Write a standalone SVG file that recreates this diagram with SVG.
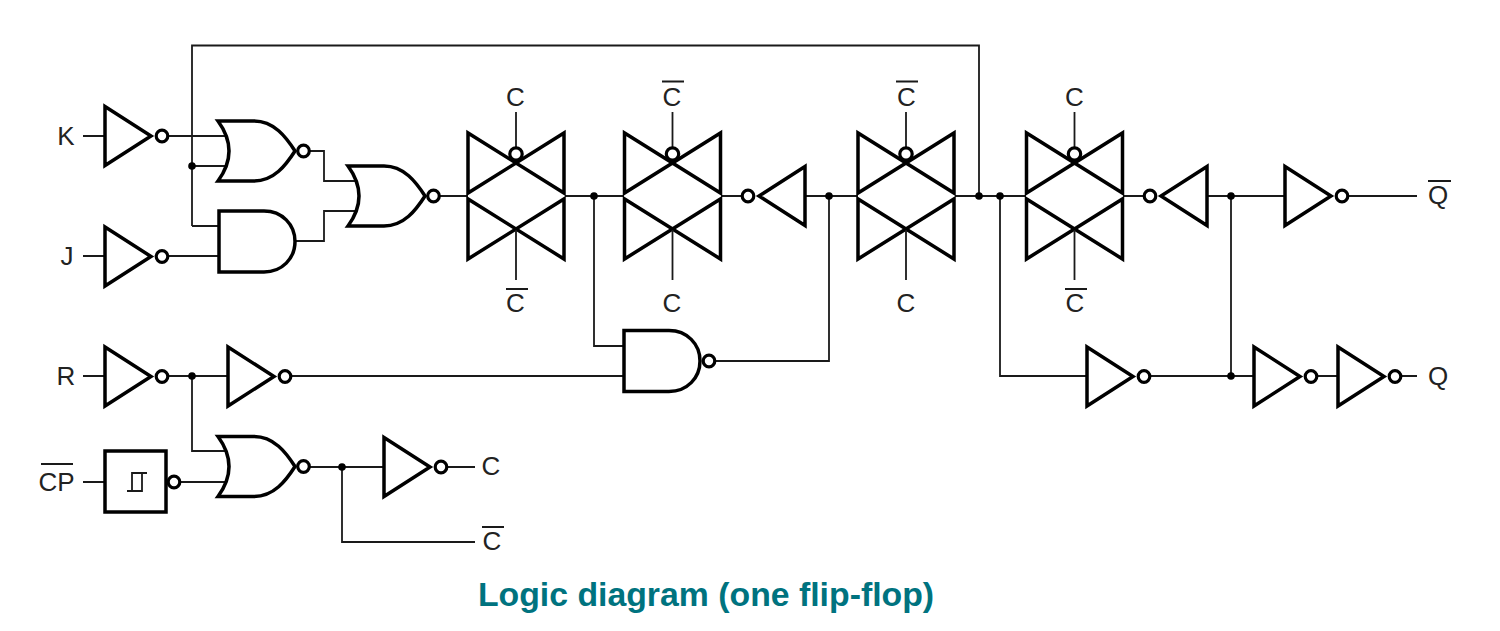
<svg xmlns="http://www.w3.org/2000/svg" xmlns:xlink="http://www.w3.org/1999/xlink" width="1500" height="631" viewBox="0 0 1500 631">
<style>
.w{fill:none;stroke:#1a1a1a;stroke-width:1.8;stroke-linejoin:miter}
.g{fill:none;stroke:#000;stroke-width:3.5;stroke-linejoin:miter}
.b{fill:#fff;stroke:#000;stroke-width:3.2}
.d{fill:#000;stroke:none}
.o{fill:none;stroke:#1a1a1a;stroke-width:1.8}
text{font-family:"Liberation Sans",Arial,sans-serif;font-size:26px;fill:#222;text-anchor:middle}
.t{font-size:33.800px;font-weight:bold;fill:#00737f}
</style>
<defs>
<g id="inv"><path class="g" d="M0,-29.500L46,0L0,29.500Z"/><circle class="b" cx="57" cy="0" r="5.800"/></g>
<g id="invr"><path class="g" d="M0,-29.500L-46,0L0,29.500Z"/><circle class="b" cx="-57" cy="0" r="5.800"/></g>
<path id="orb" class="g" d="M0,-30H36C56,-30 68,-14 77,0C68,14 56,30 36,30H0Q22,0 0,-30Z"/>
<g id="nor"><use xlink:href="#orb"/><circle class="b" cx="85.500" cy="0" r="5.800"/></g>
<path id="andb" class="g" d="M0,-30.500H45C63,-30.500 76,-17 76,0C76,17 63,30.500 45,30.500H0Z"/>
<g id="tg"><path class="g" d="M-48,-63V-3L48,-63V-3ZM-48,3V63L48,3V63Z"/><path class="w" d="M0,-84V-48M0,34V84"/><circle class="b" cx="0" cy="-42" r="6.200"/></g>
</defs>
<g id="connectors">
<path class="w" d="M83,136H105M83,256H105M83,376H105M83,482H105"/>
<path class="w" d="M168,136H225M168,256H219M192,166H225M192,226H219M192,226V45.500H979V196"/>
<path class="w" d="M310,151H324V181H355M295,241H324V211H355"/>
<path class="w" d="M439,196H468M565,196H624M594,196V346H624M721,196H742M805,196H858M829,196V361H716M955,196H1026M1000,196V376H1087M1123,196H1144M1207,196H1285M1231,196V376M1348,196H1417"/>
<path class="w" d="M168,376H228M192,376V451H225M291,376H624M180,482H225M310,467H384M342,467V542H475M447,467H475"/>
<path class="w" d="M1150,376H1254M1318,376H1338M1402,376H1417"/>
<circle class="d" cx="192" cy="166" r="3.800"/><circle class="d" cx="594" cy="196" r="3.800"/><circle class="d" cx="829" cy="196" r="3.800"/><circle class="d" cx="979" cy="196" r="3.800"/><circle class="d" cx="1000" cy="196" r="3.800"/><circle class="d" cx="1231" cy="196" r="3.800"/><circle class="d" cx="1231" cy="376" r="3.800"/><circle class="d" cx="192" cy="376" r="3.800"/><circle class="d" cx="342" cy="467" r="3.800"/>
</g>
<g id="inv-k"><use xlink:href="#inv" x="105" y="136"/></g>
<g id="inv-j"><use xlink:href="#inv" x="105" y="256.500"/></g>
<g id="nor-1"><use xlink:href="#nor" x="218" y="151"/></g>
<g id="and-1"><use xlink:href="#andb" x="219" y="241.500"/></g>
<g id="nor-2"><use xlink:href="#nor" x="348" y="196"/></g>
<g id="tg-1"><use xlink:href="#tg" x="516" y="196"/></g>
<g id="tg-2"><use xlink:href="#tg" x="672.500" y="196"/></g>
<g id="tg-3"><use xlink:href="#tg" x="906" y="196"/></g>
<g id="tg-4"><use xlink:href="#tg" x="1074.500" y="196"/></g>
<g id="inv-fb1"><use xlink:href="#invr" x="805" y="196"/></g>
<g id="inv-fb2"><use xlink:href="#invr" x="1207" y="196"/></g>
<g id="nand"><use xlink:href="#andb" x="624" y="361"/><circle class="b" cx="709" cy="361" r="5.800"/></g>
<g id="inv-r"><use xlink:href="#inv" x="105" y="376.500"/></g>
<g id="inv-r2"><use xlink:href="#inv" x="228" y="376.500"/></g>
<g id="nor-3"><use xlink:href="#nor" x="218" y="466.500"/></g>
<g id="schmitt"><rect class="g" x="105" y="451" width="61" height="61"/><circle class="b" cx="174" cy="482" r="5.800"/><path class="w" d="M127,491H142V473M147,473H132V491"/></g>
<g id="inv-c"><use xlink:href="#inv" x="384" y="467"/></g>
<g id="inv-qb"><use xlink:href="#inv" x="1285" y="196"/></g>
<g id="inv-n"><use xlink:href="#inv" x="1087" y="376.500"/></g>
<g id="inv-q1"><use xlink:href="#inv" x="1254" y="376.500"/></g>
<g id="inv-q2"><use xlink:href="#inv" x="1338" y="376.500"/></g>
<g id="labels">
<text x="66" y="144.500">K</text><text x="67" y="265">J</text><text x="66" y="385">R</text><text x="56.500" y="490.500">CP</text>
<text x="515.500" y="106">C</text><text x="672" y="106">C</text><text x="906.500" y="106">C</text><text x="1074.500" y="106">C</text>
<text x="515.500" y="312">C</text><text x="672" y="312">C</text><text x="906" y="312">C</text><text x="1075" y="312">C</text>
<text x="491" y="475">C</text><text x="492" y="550">C</text>
<text x="1438" y="204">Q</text><text x="1438" y="384.500">Q</text>
<path class="o" d="M41,464H73M662,81.500H684M896,81.500H918M506,289H528M1065,289H1087M482,527H504M1428,181H1451"/>
<text class="t" x="706" y="606">Logic diagram (one flip-flop)</text>
</g>
</svg>
